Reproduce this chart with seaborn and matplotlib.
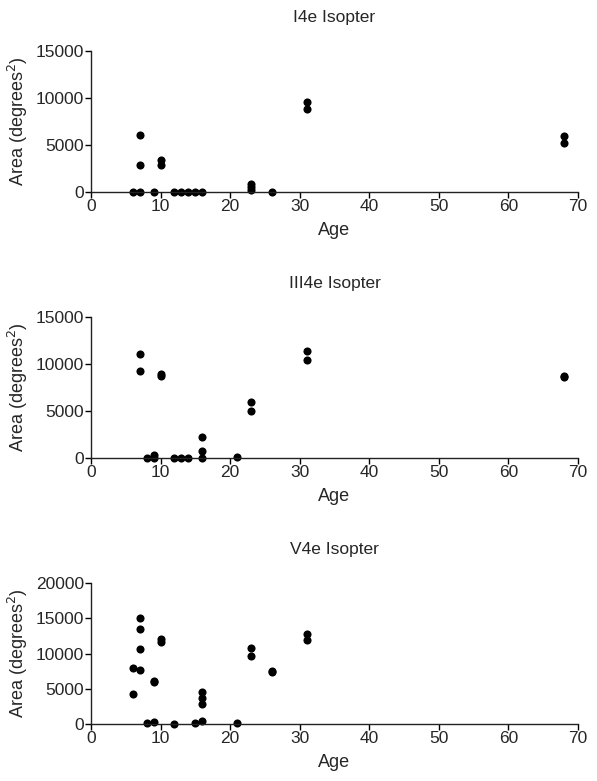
import matplotlib
matplotlib.use('Agg')
import matplotlib.pyplot as plt
import pandas as pd
import seaborn as sns

# I4e isopter
i4e_age = [6, 7, 7, 7, 9, 10, 10, 12, 13, 14, 15, 16, 23, 23, 23, 26, 31, 31, 68, 68]
i4e_area = [0, 0, 2900, 6100, 0, 3450, 2850, 0, 0, 0, 0, 0, 850, 480, 250, 0, 9600, 8800, 6000, 5250]

# III4e isopter
iii4e_age = [7, 7, 8, 9, 9, 10, 10, 12, 13, 14, 16, 16, 16, 21, 23, 23, 31, 31, 68, 68]
iii4e_area = [11100, 9300, 0, 300, 50, 8900, 8700, 0, 0, 0, 2250, 700, 0, 100, 6000, 5000, 11400, 10400, 8700, 8600]

# V4e isopter
v4e_age = [6, 6, 7, 7, 7, 7, 8, 9, 9, 9, 10, 10, 12, 15, 16, 16, 16, 16, 21, 23, 23, 26, 26, 31, 31]
v4e_area = [7900, 4200, 15050, 13500, 10700, 7700, 150, 6100, 5900, 280, 12100, 11650, 50, 100,
            4500, 3750, 2900, 380, 100, 10750, 9700, 7500, 7400, 12800, 11950]

panels = [
    ('I4e Isopter', i4e_age, i4e_area, [0, 5000, 10000, 15000]),
    ('III4e Isopter', iii4e_age, iii4e_area, [0, 5000, 10000, 15000]),
    ('V4e Isopter', v4e_age, v4e_area, [0, 5000, 10000, 15000, 20000]),
]

sns.set_theme(style='ticks')
plt.rcParams['font.family'] = ['Liberation Sans', 'DejaVu Sans']

fig = plt.figure(figsize=(5.97, 7.81), dpi=100)
bottoms = [0.7542, 0.4136, 0.0730]

for (title, ages, areas, yticks), bottom in zip(panels, bottoms):
    ax = fig.add_axes([0.1524, bottom, 0.8157, 0.1805])
    df = pd.DataFrame({'Age': ages, 'Area': areas})
    sns.scatterplot(data=df, x='Age', y='Area', ax=ax, color='black',
                    s=34, edgecolor='black', linewidth=0, clip_on=False)
    ax.set_xlim(0, 70)
    ax.set_ylim(yticks[0], yticks[-1])
    ax.set_xticks(range(0, 71, 10))
    ax.set_yticks(yticks)
    ax.set_title(title, fontsize=12.5, pad=21)
    ax.set_xlabel('Age', fontsize=13, labelpad=6)
    ax.set_ylabel('Area (degrees$^2$)', fontsize=13, labelpad=4)
    ax.tick_params(labelsize=12.5, length=4, width=1, color='black', pad=1)
    for side in ['left', 'bottom']:
        ax.spines[side].set_linewidth(1)
        ax.spines[side].set_color('#222222')
    sns.despine(ax=ax)

fig.savefig('out.png', dpi=100)
